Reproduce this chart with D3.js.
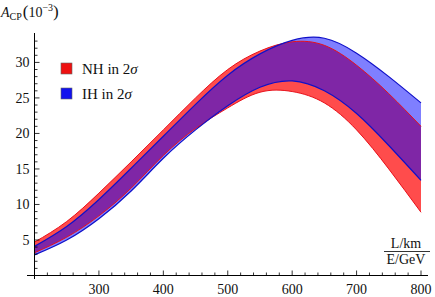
<!DOCTYPE html>
<html>
<head>
<meta charset="utf-8">
<script src="https://cdn.jsdelivr.net/npm/d3@7"></script>
<style>
  body { margin: 0; background: #fff; }
  svg { display: block; }
  text { font-family: "Liberation Serif", "DejaVu Serif", serif; fill: #111; }
</style>
</head>
<body>
<svg id="chart" width="435" height="297"></svg>
<script>
// L/E values (km/GeV)
var lOverE = [200, 250, 300, 350, 400, 450, 500, 550, 600, 650, 700, 750, 800];

// A_CP in units of 1e-3, band edges
var nhUpper = [4.7, 7.6, 11.6, 16.0, 20.5, 25.0, 29.0, 31.6, 32.9, 32.4, 29.6, 25.6, 21.0];
var nhLower = [3.2, 5.4, 8.4, 12.3, 16.9, 20.7, 23.6, 25.8, 25.9, 24.3, 20.5, 15.0, 8.9];
var ihUpper = [4.1, 6.9, 10.7, 15.1, 19.6, 24.1, 28.2, 31.2, 33.1, 33.4, 31.3, 28.0, 24.3];
var ihLower = [2.9, 5.0, 8.0, 11.9, 16.5, 20.5, 23.9, 26.5, 27.4, 26.0, 22.8, 18.3, 13.4];

var xTicks = [300, 400, 500, 600, 700, 800];
var yTicks = [5, 10, 15, 20, 25, 30];

var legendItems = [
  {name: "NH", color: "#ee1111"},
  {name: "IH", color: "#1111ee"}
];

var svg = d3.select('#chart');

var x = d3.scaleLinear().domain([200, 800]).range([34.5, 421]);
var y = d3.scaleLinear().domain([0, 34]).range([275.5, 34]);

var bandData = function(lo, hi) {
  return lOverE.map(function(d, i) {
    return {x: d, lo: lo[i], hi: hi[i]};
  });
};

var smooth = d3.curveNatural;

var area = d3.area()
  .curve(smooth)
  .x(function(d) { return x(d.x); })
  .y0(function(d) { return y(d.lo); })
  .y1(function(d) { return y(d.hi); });

var line = d3.line()
  .curve(smooth)
  .x(function(d) { return x(d[0]); })
  .y(function(d) { return y(d[1]); });

var pairs = function(vals) {
  return lOverE.map(function(d, i) { return [d, vals[i]]; });
};

// fills first (NH red, IH blue on top), then the edge lines
svg.append('path')
  .datum(bandData(nhLower, nhUpper))
  .attr('d', area)
  .attr('fill', '#ff0000')
  .attr('fill-opacity', 0.7);

svg.append('path')
  .datum(bandData(ihLower, ihUpper))
  .attr('d', area)
  .attr('fill', '#0000ff')
  .attr('fill-opacity', 0.5);

[nhUpper, nhLower].forEach(function(v) {
  svg.append('path')
    .datum(pairs(v))
    .attr('d', line)
    .attr('fill', 'none')
    .attr('stroke', '#e8101a')
    .attr('stroke-width', 1);
});

[ihUpper, ihLower].forEach(function(v) {
  svg.append('path')
    .datum(pairs(v))
    .attr('d', line)
    .attr('fill', 'none')
    .attr('stroke', '#1010c8')
    .attr('stroke-width', 1.2);
});

// axes, ticks pointing inwards
var gx = svg.append('g').attr('transform', 'translate(0,' + y(0) + ')');
gx.append('line')
  .attr('x1', 27).attr('x2', 428)
  .attr('stroke', '#000').attr('stroke-width', 1);
gx.selectAll('.tk')
  .data(d3.range(200, 801, 20))
  .enter()
  .append('line')
  .attr('x1', function(d) { return x(d); })
  .attr('x2', function(d) { return x(d); })
  .attr('y1', 0)
  .attr('y2', function(d) { return d % 100 === 0 ? -5 : -3; })
  .attr('stroke', '#000').attr('stroke-width', 0.8);
gx.selectAll('.lb')
  .data(xTicks)
  .enter()
  .append('text')
  .attr('x', function(d) { return x(d); })
  .attr('y', 18)
  .attr('text-anchor', 'middle')
  .attr('font-size', 14)
  .text(function(d) { return d; });

var gy = svg.append('g').attr('transform', 'translate(' + x(200) + ',0)');
gy.append('line')
  .attr('y1', 33).attr('y2', 279)
  .attr('stroke', '#000').attr('stroke-width', 1);
gy.selectAll('.tk')
  .data(d3.range(1, 34, 1))
  .enter()
  .append('line')
  .attr('y1', function(d) { return y(d); })
  .attr('y2', function(d) { return y(d); })
  .attr('x1', 0)
  .attr('x2', function(d) { return d % 5 === 0 ? 5 : 3; })
  .attr('stroke', '#000').attr('stroke-width', 0.8);
gy.selectAll('.lb')
  .data(yTicks)
  .enter()
  .append('text')
  .attr('x', -5)
  .attr('y', function(d) { return y(d) + 5; })
  .attr('text-anchor', 'end')
  .attr('font-size', 14)
  .text(function(d) { return d; });

// y axis label: A_CP (10^-3)
var yl = svg.append('text').attr('x', 1).attr('y', 17).attr('font-size', 14);
yl.append('tspan').attr('font-style', 'italic').text('A');
yl.append('tspan').attr('font-size', 10).attr('dy', 3).text('CP');
yl.append('tspan').attr('font-size', 17).attr('dy', -3).attr('dx', 1).text('(');
yl.append('tspan').text('10');
yl.append('tspan').attr('font-size', 10).attr('dy', -6).text('\u22123');
yl.append('tspan').attr('font-size', 17).attr('dy', 6).text(')');

// x axis label as a fraction
var xl = svg.append('g');
xl.append('text').attr('x', 406).attr('y', 248).attr('text-anchor', 'middle')
  .attr('font-size', 14).text('L/km');
xl.append('line').attr('x1', 384).attr('x2', 430).attr('y1', 251.5).attr('y2', 251.5)
  .attr('stroke', '#000').attr('stroke-width', 0.8);
xl.append('text').attr('x', 406).attr('y', 264).attr('text-anchor', 'middle')
  .attr('font-size', 14).text('E/GeV');

// legend
var lg = svg.selectAll('.legend')
  .data(legendItems)
  .enter()
  .append('g')
  .attr('transform', function(d, i) { return 'translate(61,' + (63 + i * 25) + ')'; });
lg.append('rect')
  .attr('width', 11).attr('height', 11)
  .attr('fill', function(d) { return d.color; })
  .attr('stroke', '#666').attr('stroke-width', 0.6);
lg.append('text')
  .attr('x', 21).attr('y', 11)
  .attr('font-size', 15)
  .each(function(d) {
    var t = d3.select(this);
    t.append('tspan').text(d.name + ' in 2');
    t.append('tspan').attr('font-style', 'italic').text('\u03c3');
  });
</script>
</body>
</html>
